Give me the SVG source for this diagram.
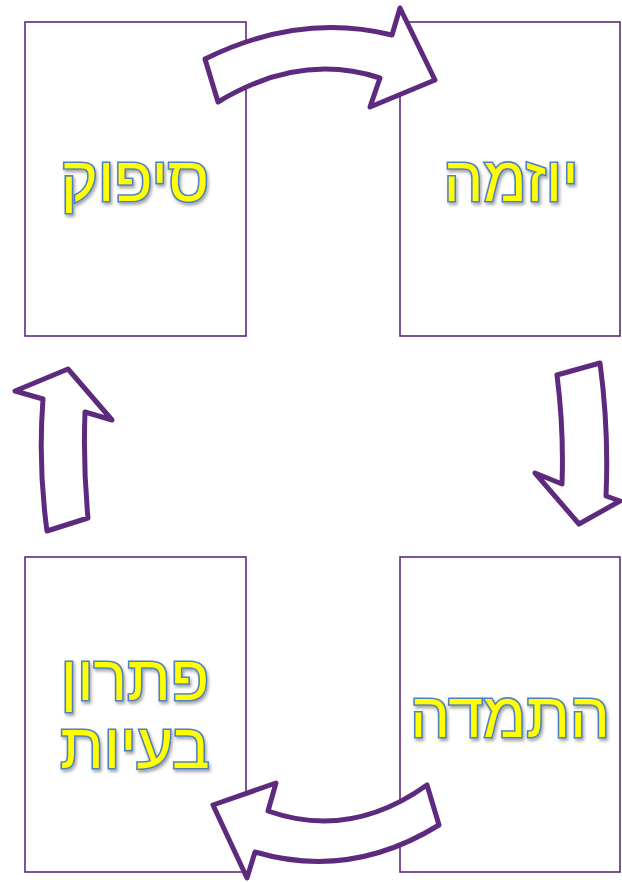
<svg xmlns="http://www.w3.org/2000/svg" width="622" height="882" viewBox="0 0 622 882">
<defs>
<filter id="sh" x="-10%" y="-10%" width="130%" height="140%">
<feDropShadow dx="1.5" dy="2.5" stdDeviation="1.5" flood-color="#000" flood-opacity="0.35"/>
</filter>
</defs>
<style>
.box{fill:#fff;stroke:#5E2A7E;stroke-width:1.6}
.arrow{fill:#fff;stroke:#5E2A7E;stroke-width:5;stroke-linejoin:round}
.lbl{font-family:"Liberation Sans","DejaVu Sans",sans-serif;font-size:63px;fill:#FFFF00;stroke:#4F81BD;stroke-width:3.2;paint-order:stroke;text-anchor:middle;filter:url(#sh)}
</style>
<rect width="622" height="882" fill="#fff"/>
<g id="node-sipuk">
<rect class="box" x="25" y="22" width="221" height="314"/>
<text class="lbl" x="135" y="201">סיפוק</text>
</g>
<g id="node-yozma">
<rect class="box" x="400" y="22" width="220" height="314"/>
<text class="lbl" x="511" y="201">יוזמה</text>
</g>
<g id="node-hatmada">
<rect class="box" x="400" y="557" width="220" height="315"/>
<text class="lbl" x="510" y="737">התמדה</text>
</g>
<g id="node-pitaron">
<rect class="box" x="25" y="557" width="221" height="315"/>
<text class="lbl" x="135" y="700">פתרון</text>
<text class="lbl" x="135" y="768">בעיות</text>
</g>
<g id="connectors">
<path class="arrow" d="M205,59 Q300,12 392,35 L400,8 L435,80 L370,107 L380,78 Q300,52 218,102 Z"/>
<path class="arrow" d="M557,375 L600,363 Q609,430 606,496 L620,501 L579,524 L535,473 L562,484 Q564,430 557,375 Z"/>
<path class="arrow" d="M439,825 Q350,880 255,852 L247,878 L213,805 L276,783 L268,811 Q350,840 427,785 Z"/>
<path class="arrow" d="M47,531 L88,518 Q83,465 85,412 L112,420 L68,369 L15,391 L43,399 Q38,465 47,531 Z"/>
</g>
</svg>
